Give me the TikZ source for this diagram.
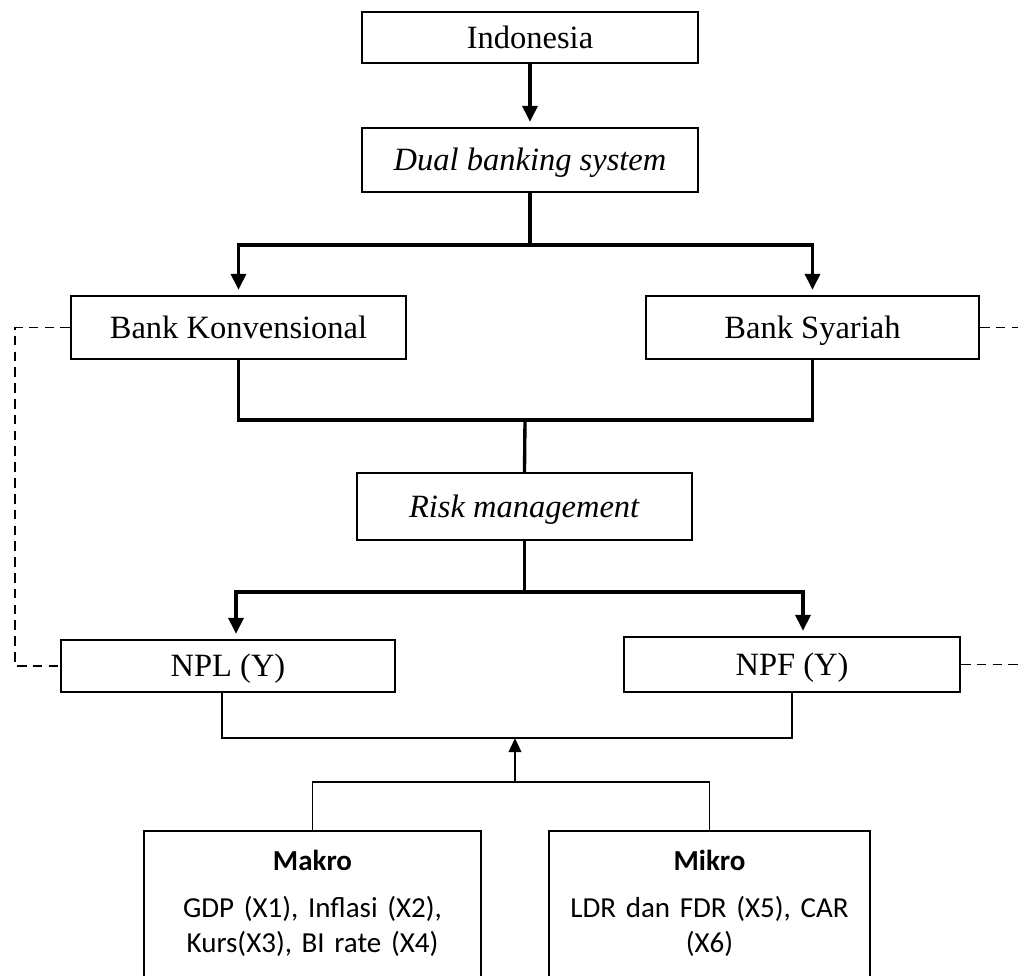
\documentclass[tikz,border=0pt]{standalone}
\usepackage{fontspec}
\setmainfont{Liberation Serif}
\newfontfamily\calibri{Carlito}
\usetikzlibrary{arrows.meta, calc}

\begin{document}
\begin{tikzpicture}[
  x=0.02cm, y=-0.02cm,
  every node/.style={font=\fontsize{18.5}{22}\selectfont},
  blk/.style   ={draw, line width=1.1pt, minimum width=6.72cm,
                 minimum height=1.26cm, inner sep=0pt, align=center,
                 text height=14pt, text depth=1.8pt},
  varbox/.style={draw, line width=1pt, anchor=north, align=center,
                 inner xsep=0pt, inner ysep=11pt,
                 font=\calibri\fontsize{16.5}{19.8}\selectfont},
  arr/.style   ={-{Triangle[width=8.5pt,length=9pt]}, line width=1.9pt,
                 shorten >=3pt},
  lnk/.style   ={line width=1.9pt},
  thn/.style   ={line width=0.8pt},
  uparr/.style ={-{Triangle[width=7pt,length=8pt]}, line width=1.5pt},
  dashln/.style={line width=0.8pt, dash pattern=on 5.5pt off 3.5pt}
]
\useasboundingbox (0,0) rectangle (1018,976);
\clip (0,0) rectangle (1018,976);

%% ─── top ───────────────────────────────────────────────────────────────────
\node[blk, minimum height=1.02cm] (indo) at (530,37.5) {Indonesia};
\node[blk, minimum height=1.28cm] (dual) at (530,160)  {\textit{Dual banking system}};

%% ─── banks ─────────────────────────────────────────────────────────────────
\node[blk, minimum width=6.70cm] (konv) at (238.5,327.5) {Bank Konvensional};
\node[blk, minimum width=6.66cm] (syar) at (812.5,327.5) {Bank Syariah};
\node[blk, minimum width=6.70cm, minimum height=1.34cm]
                                 (risk) at (524.5,506.5) {\textit{Risk management}};
\node[blk, minimum width=6.68cm, minimum height=1.04cm]
                                 (npl)  at (228,666)     {NPL (Y)};
\node[blk, minimum height=1.10cm] (npf) at (792,664.5)   {NPF (Y)};

%% ─── variables ─────────────────────────────────────────────────────────────
\node[varbox, text width=6.74cm] (makro) at (312.5,830)
  {\textbf{Makro}\\[7pt]GDP (X1), Inflasi (X2),\\Kurs(X3), BI rate (X4)\\[14pt]~};
\node[varbox, text width=6.42cm] (mikro) at (709.5,830)
  {\textbf{Mikro}\\[7pt]LDR dan FDR (X5), CAR\\(X6)\\[14pt]~};

\coordinate (busA) at (530,245);
\coordinate (busB) at (525,420);
\coordinate (busC) at (524.5,592);
\coordinate (busD) at (515,738);
\coordinate (busE) at (515,782);
\coordinate (rim)  at (1030,0);

\draw[arr] (indo) -- (dual);
\draw[arr] (dual.south) -- (busA) -| (konv.north);
\draw[arr] (dual.south) -- (busA) -| (syar.north);
\draw[lnk] (konv.south) |- (busB) -| (syar.south);
\draw[lnk] (busB) -- (risk.north);
\draw[arr] (risk.south) -- (busC) -| ($(npl.north)+(8,0)$);
\draw[arr] (risk.south) -- (busC) -| ($(npf.north)+(11,0)$);
\draw[thn] ($(npl.south)+(-6,0)$) |- (busD) -| (npf.south);
\draw[uparr] (busE) -- (busD);
\draw[thn] (makro.north) |- (busE) -| (mikro.north);

%% dashed links
\draw[dashln] (konv.west) -- ++(-55,0) |- (npl.west);
\draw[dashln] (syar.east) -- (syar.east -| rim);
\draw[dashln] (npf.east)  -- (npf.east -| rim);

\end{tikzpicture}
\end{document}
